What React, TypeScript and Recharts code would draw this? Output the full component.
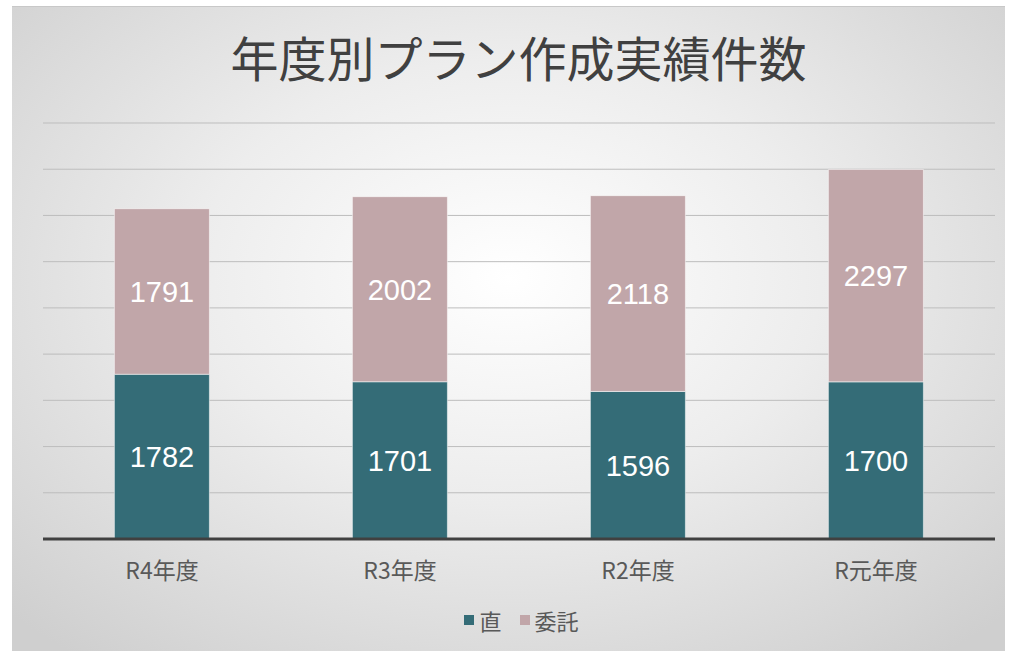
import { BarChart, Bar, XAxis, YAxis, CartesianGrid, LabelList } from "recharts";

const years = ["R4年度", "R3年度", "R2年度", "R元年度"];
const direct = [1782, 1701, 1596, 1700];
const outsourced = [1791, 2002, 2118, 2297];
const yTicks = [0, 500, 1000, 1500, 2000, 2500, 3000, 3500, 4000, 4500];

const TEAL = "#346c77";
const PINK = "#c1a6a9";
const FONT = "'Noto Sans CJK JP', 'Noto Sans', sans-serif";
const NUM_FONT = "'Liberation Sans', Arial, sans-serif";

const data = years.map((name, i) => ({ name, 直: direct[i], 委託: outsourced[i] }));

function LegendItem({ color, label }: { color: string; label: string }) {
  return (
    <span style={{ display: "inline-flex", alignItems: "center", marginRight: 18 }}>
      <span style={{ width: 10, height: 10, background: color, marginRight: 5, display: "inline-block" }} />
      <span>{label}</span>
    </span>
  );
}

export default function App() {
  return (
    <div style={{ position: "absolute", left: 0, top: 0, width: 1015, height: 654, background: "#ffffff", fontFamily: FONT }}>
      <div
        style={{
          position: "absolute",
          left: 12,
          top: 6,
          width: 993,
          height: 644,
          background: "radial-gradient(ellipse 70% 75% at 50% 42%, #ffffff 0%, #ededed 45%, #cfcfcf 100%)",
          borderTop: "1px solid #c8c8c8",
        }}
      >
        <div
          style={{
            position: "absolute",
            left: 0,
            top: 14,
            width: "100%",
            textAlign: "center",
            fontSize: 48,
            color: "#404040",
            paddingLeft: 20,
            boxSizing: "border-box",
          }}
        >
          年度別プラン作成実績件数
        </div>
        <div style={{ position: "absolute", left: 0, top: 0 }}>
          <BarChart
            width={993}
            height={644}
            data={data}
            margin={{ top: 116, right: 10, left: 31, bottom: 82 }}
            barCategoryGap="30%"
          >
            <CartesianGrid vertical={false} stroke="#bdbdbd" strokeWidth={1} />
            <XAxis
              dataKey="name"
              height={30}
              axisLine={{ stroke: "#404040", strokeWidth: 3 }}
              tickLine={false}
              tick={{ fontSize: 23, fill: "#595959", fontFamily: FONT }}
              tickMargin={18}
            />
            <YAxis hide domain={[0, 4500]} ticks={yTicks} />
            <Bar dataKey="直" stackId="a" fill={TEAL} stroke="#ffffff" strokeOpacity={0.5} isAnimationActive={false}>
              <LabelList dataKey="直" position="center" fill="#ffffff" fontSize={29} fontFamily={NUM_FONT} />
            </Bar>
            <Bar dataKey="委託" stackId="a" fill={PINK} stroke="#ffffff" strokeOpacity={0.5} isAnimationActive={false}>
              <LabelList dataKey="委託" position="center" fill="#ffffff" fontSize={29} fontFamily={NUM_FONT} />
            </Bar>
          </BarChart>
        </div>
        <div
          style={{
            position: "absolute",
            left: 0,
            top: 592,
            width: "100%",
            textAlign: "center",
            fontSize: 22,
            color: "#595959",
            paddingLeft: 44,
            boxSizing: "border-box",
          }}
        >
          <LegendItem color={TEAL} label="直" />
          <LegendItem color={PINK} label="委託" />
        </div>
      </div>
    </div>
  );
}
